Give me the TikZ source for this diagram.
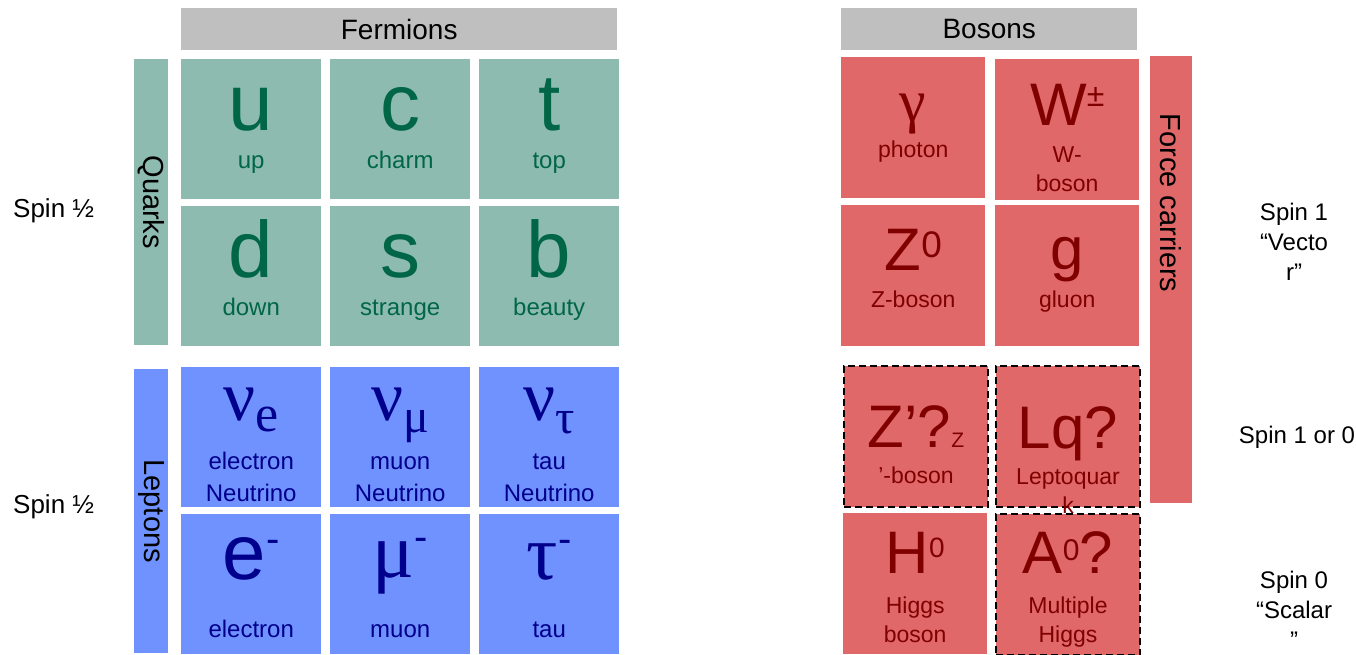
\documentclass[tikz,border=0pt]{standalone}
\usepackage{fontspec}
\setmainfont{Liberation Sans}
\newfontfamily\greekserif{Liberation Serif}
\usetikzlibrary{positioning}

\definecolor{headgray}{RGB}{191,191,191}
\definecolor{quarkfill}{RGB}{142,187,175}
\definecolor{quarktext}{RGB}{0,102,70}
\definecolor{leptonfill}{RGB}{112,146,255}
\definecolor{leptontext}{RGB}{0,0,140}
\definecolor{bosonfill}{RGB}{224,104,104}
\definecolor{bosontext}{RGB}{128,0,0}
\newcommand{\fs}[1]{\fontsize{#1}{#1}\selectfont}
\newcommand{\fsl}[2]{\fontsize{#1}{#2}\selectfont}

\begin{document}
\begin{tikzpicture}[x=1pt, y=-1pt,
  cell/.style={rectangle, inner sep=0pt, anchor=north west, minimum width=140pt, minimum height=140pt},
  quark/.style={cell, fill=quarkfill},
  lepton/.style={cell, fill=leptonfill},
  boson/.style={cell, fill=bosonfill, minimum width=144pt, minimum height=141pt},
  maybe/.style={boson, draw=black, line width=2pt, dash pattern=on 7pt off 4pt},
  header/.style={fill=headgray, inner sep=0pt, anchor=north west, minimum height=42pt, font=\fs{28}},
  bar/.style={inner sep=0pt, anchor=north west},
  bartext/.style={rotate=-90, inner sep=0pt, font=\fs{29}},
  qsym/.style={anchor=base, inner sep=0pt, text=quarktext, font=\fs{80}},
  qname/.style={anchor=base, inner sep=0pt, text=quarktext, font=\fs{24}},
  lsym/.style={anchor=base, inner sep=0pt, text=leptontext},
  lname/.style={anchor=base, inner sep=0pt, text=leptontext, align=center, font=\fsl{24}{32}},
  bsym/.style={anchor=base, inner sep=0pt, text=bosontext, font=\fs{60}},
  bname/.style={anchor=base, inner sep=0pt, text=bosontext, align=center, font=\fsl{23}{29}},
  spin/.style={anchor=base, inner sep=0pt, align=center, font=\fsl{24}{30}}
]
  \useasboundingbox (0,0) rectangle (1356,654);

  % Headers
  \node[header, minimum width=436pt] (fermions) at (181,8) {Fermions};
  \node[header, minimum width=296pt] (bosons) at (841,8) {Bosons};

  % Side bars
  \node[bar, fill=quarkfill, minimum width=34pt, minimum height=286pt] (quarks) at (134,59) {};
  \node[bartext] (quarks-txt) at (quarks.center) {Quarks};
  \node[bar, fill=leptonfill, minimum width=34pt, minimum height=284pt] (leptons) at (134,369) {};
  \node[bartext] (leptons-txt) at (leptons.center) {Leptons};
  \node[bar, fill=bosonfill, minimum width=42pt, minimum height=447pt] (force) at (1150,56) {};
  \node[bartext] (force-txt) at (1171,203) {Force carriers};

  % Quarks
  \foreach \n/\x/\y/\s/\l in {u/181/59/u/up, c/330/59/c/charm, t/479/59/t/top,
                              d/181/206/d/down, s/330/206/s/strange, b/479/206/b/beauty} {
    \node[quark] (q-\n) at (\x,\y) {};
    \node[qsym] (q-\n-sym) at ([yshift=-71pt]q-\n.north) {\s};
    \node[qname] (q-\n-name) at ([yshift=-109pt]q-\n.north) {\l};
  }

  % Leptons (base of a two-line name is its last line)
  \node[lepton] (l-nue) at (181,367) {};
  \node[lepton] (l-num) at (330,367) {};
  \node[lepton] (l-nut) at (479,367) {};
  \node[lepton] (l-e) at (181,514) {};
  \node[lepton] (l-mu) at (330,514) {};
  \node[lepton] (l-tau) at (479,514) {};

  \node[lsym] (l-nue-sym) at ([yshift=-53pt]l-nue.north) {\greekserif\fs{71}ν\raisebox{-11pt}{\fs{52}e}};
  \node[lsym] (l-num-sym) at ([yshift=-53pt]l-num.north) {\greekserif\fs{71}ν\raisebox{-12pt}{\fs{48}μ}};
  \node[lsym] (l-nut-sym) at ([yshift=-53pt]l-nut.north) {\greekserif\fs{71}ν\raisebox{-13pt}{\fs{48}τ}};
  \node[lname] (l-nue-name) at ([yshift=-134pt]l-nue.north) {electron\\Neutrino};
  \node[lname] (l-num-name) at ([yshift=-134pt]l-num.north) {muon\\Neutrino};
  \node[lname] (l-nut-name) at ([yshift=-134pt]l-nut.north) {tau\\Neutrino};

  \node[lsym] (l-e-sym) at ([yshift=-65pt]l-e.north) {\fs{78}e\raisebox{27pt}{\fs{40}-}};
  \node[lsym] (l-mu-sym) at ([yshift=-63pt]l-mu.north) {\greekserif\fs{78}μ\raisebox{27pt}{\rmfamily\fs{40}-}};
  \node[lsym] (l-tau-sym) at ([yshift=-65pt]l-tau.north) {\greekserif\fs{78}τ\raisebox{27pt}{\rmfamily\fs{40}-}};
  \node[lname] (l-e-name) at ([yshift=-123pt]l-e.north) {electron};
  \node[lname] (l-mu-name) at ([yshift=-123pt]l-mu.north) {muon};
  \node[lname] (l-tau-name) at ([yshift=-123pt]l-tau.north) {tau};

  % Bosons
  \node[boson] (b-gamma) at (841,57) {};
  \node[boson] (b-w) at (995,59) {};
  \node[boson] (b-z) at (841,205) {};
  \node[boson] (b-g) at (995,205) {};
  \node[maybe] (b-zp) at (843,365) {};
  \node[maybe] (b-lq) at (995,365) {};
  \node[boson] (b-h) at (843,513) {};
  \node[maybe] (b-a) at (995,513) {};

  \node[bsym] (b-gamma-sym) at ([yshift=-64pt]b-gamma.north) {\greekserif\fs{60}γ};
  \node[bname] (b-gamma-name) at ([yshift=-100pt]b-gamma.north) {photon};
  \node[bsym] (b-w-sym) at ([yshift=-66pt]b-w.north) {W\raisebox{19pt}{\fs{32}±}};
  \node[bname] (b-w-name) at ([yshift=-132pt]b-w.north) {W-\\boson};
  \node[bsym] (b-z-sym) at ([yshift=-65pt]b-z.north) {Z\raisebox{13pt}{\fs{37}0}};
  \node[bname] (b-z-name) at ([yshift=-102pt]b-z.north) {Z-boson};
  \node[bsym] (b-g-sym) at ([yshift=-64pt]b-g.north) {g};
  \node[bname] (b-g-name) at ([yshift=-102pt]b-g.north) {gluon};
  \node[bsym] (b-zp-sym) at ([yshift=-82pt]b-zp.north) {Z’?{\fs{21}Z}};
  \node[bname] (b-zp-name) at ([yshift=-118pt]b-zp.north) {’-boson};
  \node[bsym] (b-lq-sym) at ([yshift=-83pt]b-lq.north) {Lq?};
  \node[bname] (b-lq-name) at ([yshift=-148pt]b-lq.north) {Leptoquar\\k};
  \node[bsym] (b-h-sym) at ([yshift=-60pt]b-h.north) {H\raisebox{16pt}{\fs{28}0}};
  \node[bname] (b-h-name) at ([yshift=-129pt]b-h.north) {Higgs\\boson};
  \node[bsym] (b-a-sym) at ([yshift=-60pt]b-a.north) {A\raisebox{13pt}{\fs{30}0}?};
  \node[bname] (b-a-name) at ([yshift=-129pt]b-a.north) {Multiple\\Higgs};

  % Spin labels
  \node[spin, anchor=base west, font=\fs{26}] (spin-q) at (13,217) {Spin ½};
  \node[spin, anchor=base west, font=\fs{26}] (spin-l) at (13,513) {Spin ½};
  \node[spin] (spin-vec) at (1294,280) {Spin 1\\“Vecto\\r”};
  \node[spin] (spin-mix) at (1297,443) {Spin 1 or 0};
  \node[spin] (spin-sca) at (1294,648) {Spin 0\\“Scalar\\”};
\end{tikzpicture}
\end{document}
